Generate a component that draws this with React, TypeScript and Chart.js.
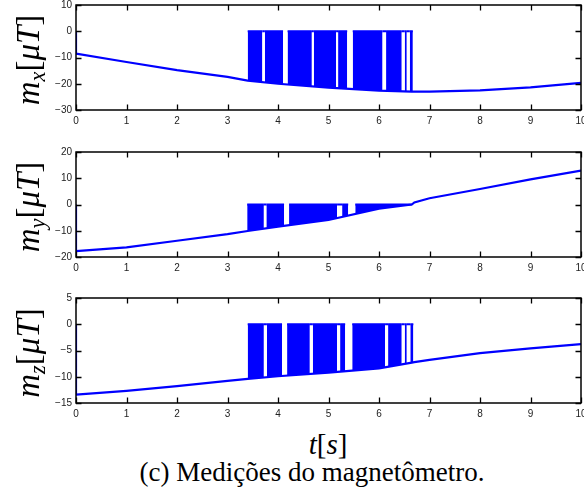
import React, { useEffect, useRef } from 'react';
import { Chart, registerables } from 'chart.js';
Chart.register(...registerables);

// ---- data ----
const baseT = [0, 0, 1, 2, 3, 3.4, 4, 5, 6, 6.65, 6.7, 7, 8, 9, 10];
const mxBase = [0, -8.5, -11.7, -14.8, -17.4, -18.8, -20.0, -21.5, -22.6, -23.0, -23.0, -23.0, -22.5, -21.4, -19.7];
const myBase = [0, -17.8, -16.3, -13.8, -11.3, -10.1, -8.4, -5.9, -1.6, 0.0, 0.8, 2.4, 5.9, 9.6, 12.9];
const mzBase = [0, -13.4, -12.7, -11.8, -10.8, -10.4, -9.9, -9.2, -8.4, -7.3, -7.2, -6.8, -5.5, -4.6, -3.8];

// intervals where the signal switches rapidly between baseline and the 0 level
const mxDense = [[3.40, 3.69], [3.74, 4.10], [4.19, 4.67], [4.71, 5.15], [5.19, 5.37], [5.48, 6.07], [6.14, 6.45], [6.51, 6.55], [6.61, 6.67]];
const mxHigh = [[3.69, 3.74], [4.67, 4.71], [5.15, 5.19], [6.07, 6.14], [6.45, 6.51], [6.55, 6.61]];
const myDense = [[3.39, 3.72], [3.77, 4.12], [4.22, 5.17], [5.27, 5.39], [5.53, 6.65]];
const myHigh = [[3.72, 3.77], [5.17, 5.27]];
const mzDense = [[3.40, 3.72], [3.78, 4.08], [4.18, 4.63], [4.69, 5.17], [5.23, 5.33], [5.47, 6.12], [6.18, 6.45], [6.51, 6.55], [6.62, 6.68]];
const mzHigh = [[3.72, 3.78], [4.63, 4.69], [5.17, 5.23], [6.12, 6.18], [6.45, 6.51], [6.55, 6.62]];
const pulseLevel = 0;

const xTicks = [0, 1, 2, 3, 4, 5, 6, 7, 8, 9, 10];
const mxTicks = [-30, -20, -10, 0, 10];
const myTicks = [-20, -10, 0, 10, 20];
const mzTicks = [-15, -10, -5, 0, 5];

const panelTops = [5, 152, 298];
const PLOT_H = 105;
const W = 584;

const BLUE = '#0000ff';
const fmt = (v: any) => (Number(v) < 0 ? '\u2212' + Math.abs(Number(v)) : String(v));

function spansToPoints(spans: number[][]) {
  const pts: any[] = [];
  spans.forEach(([a, b]) => {
    pts.push({ x: a, y: pulseLevel }, { x: b, y: pulseLevel }, { x: b, y: null });
  });
  return pts;
}

// MATLAB-style box with inward tick marks on all four sides
const boxTicks = {
  id: 'boxTicks',
  afterDraw(chart: any) {
    const { ctx, chartArea: a, scales } = chart;
    const L = 5.5;
    ctx.save();
    ctx.strokeStyle = '#000';
    ctx.lineWidth = 1.3;
    ctx.beginPath();
    scales.x.ticks.forEach((t: any) => {
      const px = Math.round(scales.x.getPixelForValue(t.value)) + 0.5;
      ctx.moveTo(px, a.bottom);
      ctx.lineTo(px, a.bottom - L);
      ctx.moveTo(px, a.top);
      ctx.lineTo(px, a.top + L);
    });
    scales.y.ticks.forEach((t: any) => {
      const py = Math.round(scales.y.getPixelForValue(t.value)) + 0.5;
      ctx.moveTo(a.left, py);
      ctx.lineTo(a.left + L, py);
      ctx.moveTo(a.right, py);
      ctx.lineTo(a.right - L, py);
    });
    ctx.stroke();
    ctx.lineWidth = 1.5;
    ctx.strokeRect(a.left, a.top, a.right - a.left, a.bottom - a.top);
    ctx.restore();
  },
};

function Panel({ top, base, dense, high, yTicks }: { top: number; base: number[]; dense: number[][]; high: number[][]; yTicks: number[] }) {
  const ref = useRef<HTMLCanvasElement>(null);
  useEffect(() => {
    const tickFont = { family: '"Liberation Sans", Arial, sans-serif', size: 10 };
    const grid = { display: false, drawOnChartArea: false, drawTicks: false };
    const border = { display: false };
    const setTicks = (arr: number[]) => (s: any) => {
      s.ticks = arr.map((v) => ({ value: v }));
    };
    const ymin = yTicks[0];
    const ymax = yTicks[yTicks.length - 1];
    const chart = new Chart(ref.current!, {
      type: 'line',
      data: {
        datasets: [
          {
            data: baseT.map((t, i) => ({ x: t, y: base[i] })),
            borderColor: BLUE,
            borderWidth: 2.2,
            pointRadius: 0,
            fill: false,
            tension: 0,
          },
          {
            data: spansToPoints(dense),
            borderColor: BLUE,
            backgroundColor: BLUE,
            borderWidth: 2,
            pointRadius: 0,
            fill: '-1',
            spanGaps: false,
            tension: 0,
          },
          {
            data: spansToPoints(high),
            borderColor: BLUE,
            borderWidth: 2,
            pointRadius: 0,
            fill: false,
            spanGaps: false,
            tension: 0,
          },
        ] as any,
      },
      options: {
        animation: false,
        responsive: false,
        maintainAspectRatio: false,
        devicePixelRatio: 1,
        events: [],
        layout: { padding: { top: 10, right: 3, left: 0, bottom: 0 }, autoPadding: false },
        plugins: { legend: { display: false }, tooltip: { enabled: false }, title: { display: false } },
        scales: {
          x: {
            type: 'linear', position: 'bottom', min: 0, max: 10,
            afterBuildTicks: setTicks(xTicks),
            ticks: { font: tickFont, color: '#222', padding: 5, callback: fmt, maxRotation: 0, autoSkip: false },
            grid, border,
            afterFit: (s: any) => { s.height = 24; s.paddingLeft = 0; s.paddingRight = 0; },
          },
          y: {
            type: 'linear', position: 'left', min: ymin, max: ymax,
            afterBuildTicks: setTicks(yTicks),
            ticks: { font: tickFont, color: '#222', padding: 4, callback: fmt, autoSkip: false },
            grid, border,
            afterFit: (s: any) => { s.width = 76; s.paddingTop = 0; s.paddingBottom = 0; },
          },
        } as any,
      } as any,
      plugins: [boxTicks],
    });
    return () => chart.destroy();
  }, []);
  return (
    <canvas
      ref={ref}
      width={W}
      height={PLOT_H + 34}
      style={{ position: 'absolute', left: 0, top: top - 10, width: W, height: PLOT_H + 34 }}
    />
  );
}

const subStyle: React.CSSProperties = { fontSize: '0.68em', verticalAlign: '-0.28em', lineHeight: 0 };
const up: React.CSSProperties = { fontStyle: 'normal' };
const mathFont = '"Liberation Serif", "Times New Roman", serif';

function YLabel({ sub, top }: { sub: string; top: number }) {
  return (
    <div
      style={{
        position: 'absolute', left: 28, top: top + PLOT_H / 2 + 2,
        transform: 'translate(-50%, -50%) rotate(-90deg)',
        whiteSpace: 'nowrap', fontFamily: mathFont, fontStyle: 'italic', fontSize: 33, lineHeight: 1, color: '#000',
      }}
    >
      m<span style={subStyle}>{sub}</span><span style={up}>[</span>μT<span style={up}>]</span>
    </div>
  );
}

export default function App() {
  return (
    <div style={{ position: 'fixed', left: 0, top: 0, width: W, height: 494, background: '#fff', overflow: 'hidden' }}>
      <Panel top={panelTops[0]} base={mxBase} dense={mxDense} high={mxHigh} yTicks={mxTicks} />
      <Panel top={panelTops[1]} base={myBase} dense={myDense} high={myHigh} yTicks={myTicks} />
      <Panel top={panelTops[2]} base={mzBase} dense={mzDense} high={mzHigh} yTicks={mzTicks} />
      <YLabel sub="x" top={panelTops[0]} />
      <YLabel sub="y" top={panelTops[1]} />
      <YLabel sub="z" top={panelTops[2]} />
      <div
        style={{
          position: 'absolute', left: 328, top: 444, transform: 'translate(-50%, -50%)',
          whiteSpace: 'nowrap', fontFamily: mathFont, fontStyle: 'italic', fontSize: 29, lineHeight: 1, color: '#000',
        }}
      >
        t<span style={up}>[</span>s<span style={up}>]</span>
      </div>
      <div
        style={{
          position: 'absolute', left: 312, top: 472, transform: 'translate(-50%, -50%)',
          whiteSpace: 'nowrap', fontFamily: mathFont, fontSize: 27, lineHeight: 1, color: '#000',
        }}
      >
        (c) Medições do magnetômetro.
      </div>
    </div>
  );
}
